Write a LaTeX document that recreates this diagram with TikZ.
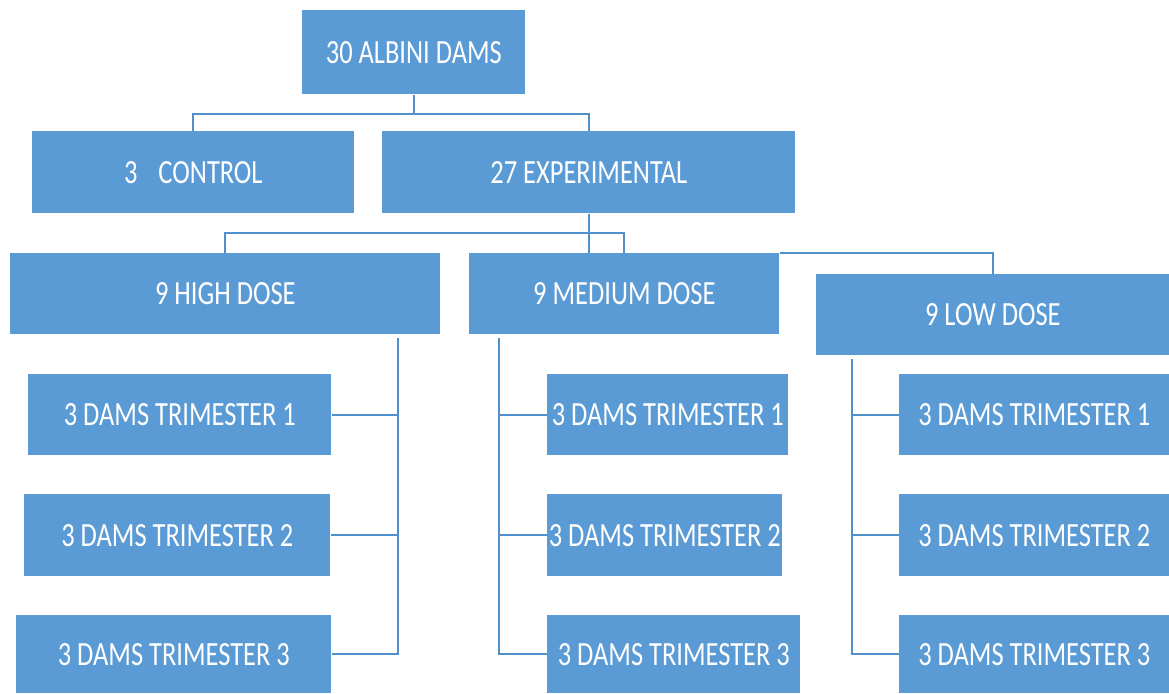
\documentclass[tikz,border=0pt]{standalone}
\usepackage{fontspec}
\setmainfont{Carlito}[FakeStretch=0.78]
\definecolor{boxblue}{HTML}{5B9BD5}
\definecolor{lineblue}{HTML}{5090CD}

\begin{document}
\begin{tikzpicture}[x=0.02cm,y=-0.02cm,
  blk/.style 2 args={fill=boxblue,text=white,anchor=north west,inner sep=0pt,
    minimum width=#1*0.02cm,minimum height=#2*0.02cm,
    font=\fontsize{19.3}{22}\selectfont},
  link/.style={draw=lineblue,line width=1.2pt}]
\useasboundingbox (0,0) rectangle (1169,693);

\node[blk={223}{84}] (dams) at (302,10) {30 ALBINI DAMS};
\node[blk={322}{82}] (control) at (32,131) {3\hspace{0.42cm}CONTROL};
\node[blk={413}{82}] (exper) at (382,131) {27 EXPERIMENTAL};

\node[blk={430}{81}] (high) at (10,253) {9 HIGH DOSE};
\node[blk={310}{81}] (medium) at (469,253) {9 MEDIUM DOSE};
\node[blk={353}{81}] (low) at (816,274) {9 LOW DOSE};

\node[blk={303}{81}] (h1) at (28,374) {3 DAMS TRIMESTER 1};
\node[blk={306}{82}] (h2) at (24,494) {3 DAMS TRIMESTER 2};
\node[blk={315}{78}] (h3) at (16,615) {3 DAMS TRIMESTER 3};

\node[blk={241}{81}] (m1) at (547,374) {3 DAMS TRIMESTER 1};
\node[blk={235}{82}] (m2) at (547,494) {3 DAMS TRIMESTER 2};
\node[blk={253}{78}] (m3) at (547,615) {3 DAMS TRIMESTER 3};

\node[blk={270}{81}] (l1) at (899,374) {3 DAMS TRIMESTER 1};
\node[blk={270}{82}] (l2) at (899,494) {3 DAMS TRIMESTER 2};
\node[blk={270}{78}] (l3) at (899,615) {3 DAMS TRIMESTER 3};

% top levels
\draw[link] (dams.south) -- ++(0,19) -| (control.north);
\draw[link] (dams.south) ++(0,19) -| (exper.north);
\draw[link] (exper.south) -- (exper.south |- medium.north);
\draw[link] (high.north) -- ++(0,-20) -| (medium.north);
\draw[link] (medium.north east) -| (low.north);

% trimesters
\coordinate (hbus) at (398,338);
\coordinate (mbus) at (499,338);
\coordinate (lbus) at (852,359);
\draw[link] (hbus) |- (h3.east);
\draw[link] (mbus) |- (m3.west);
\draw[link] (lbus) |- (l3.west);
\foreach \n in {1,2} {
  \draw[link] (h\n.east) -- (h\n.east -| hbus);
  \draw[link] (m\n.west) -- (m\n.west -| mbus);
  \draw[link] (l\n.west) -- (l\n.west -| lbus);
}
\end{tikzpicture}
\end{document}
